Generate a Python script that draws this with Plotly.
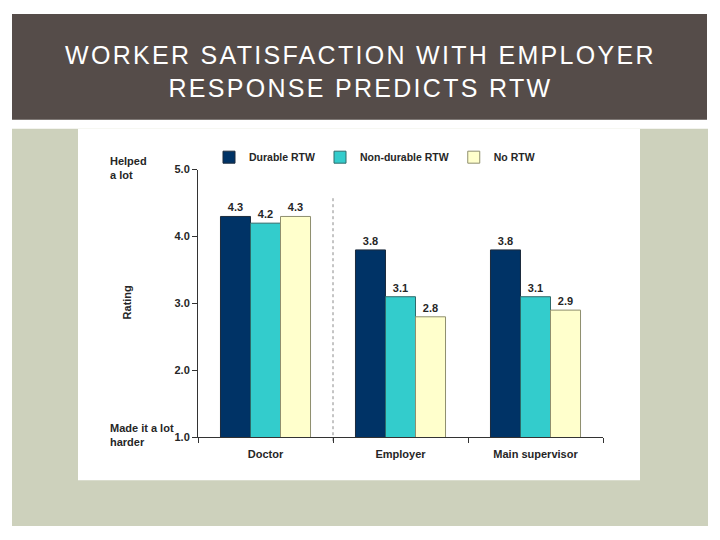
import plotly.graph_objects as go

categories = ["Doctor", "Employer", "Main supervisor"]
durable = [4.3, 3.8, 3.8]
non_durable = [4.2, 3.1, 3.1]
no_rtw = [4.3, 2.8, 2.9]
series_names = ["Durable RTW", "Non-durable RTW", "No RTW"]
y_ticks = [1.0, 2.0, 3.0, 4.0, 5.0]

# page body has an 8px margin; size the figure so that the page fits the 720x540 window
OFF = 8
W, H = 720 - 2 * OFF, 540 - 2 * OFF
# vertical calibration of the rendered page
VA, VB = 0.9786, 5.3
def px(x):
    return (x - OFF) / W
def py(y):
    v = 1 - ((y - VB) / VA - OFF) / H
    return min(max(v, 0.0), 1.0)

TXT = "#262626"
FONT = "Liberation Sans, Arial, sans-serif"

fig = go.Figure()
fills = ["#003366", "#33CCCC", "#FFFFCC"]
edges = ["#1c2b3d", "#2f6b6b", "#8f8f6e"]
for name, vals, fc, ec in zip(series_names, [durable, non_durable, no_rtw], fills, edges):
    fig.add_trace(go.Bar(
        x=categories, y=vals, name=name,
        marker=dict(color=fc, line=dict(color=ec, width=1)),
        texttemplate="%{y:.1f}", textposition="outside",
        textfont=dict(family=FONT, size=11, color=TXT, weight="bold"),
        cliponaxis=False,
    ))

shapes = [
    dict(type="rect", xref="paper", yref="paper", x0=px(12), x1=px(707), y0=py(119), y1=py(12),
         fillcolor="#554C49", line_width=0, layer="below"),
    dict(type="rect", xref="paper", yref="paper", x0=px(12), x1=px(708), y0=py(527), y1=py(128),
         fillcolor="#CDD1BC", line_width=0, layer="below"),
    dict(type="rect", xref="paper", yref="paper", x0=px(78), x1=px(640), y0=py(480), y1=py(128),
         fillcolor="#FFFFFF", line_width=0, layer="below"),
    dict(type="line", xref="x", yref="paper", x0=0.5, x1=0.5, y0=py(441), y1=py(195),
         line=dict(color="#8a8a8a", width=1, dash="dot"), layer="below"),
]

title_text = ('<span style="letter-spacing:2.3px">WORKER SATISFACTION WITH EMPLOYER</span><br>'
              '<span style="letter-spacing:2.3px">RESPONSE PREDICTS RTW</span>')

annotations = [
    dict(text=title_text, xref="paper", yref="paper",
         x=px(360), y=py(71), xanchor="center", yanchor="middle", showarrow=False,
         font=dict(family="Liberation Sans, Arial, sans-serif", size=25, color="white")),
    dict(text="Helped<br>a lot", xref="paper", yref="paper", x=px(108), y=py(152),
         xanchor="left", yanchor="top", showarrow=False, align="left",
         font=dict(family=FONT, size=11, color=TXT, weight="bold")),
    dict(text="Made it a lot<br>harder", xref="paper", yref="paper", x=px(108), y=py(420),
         xanchor="left", yanchor="top", showarrow=False, align="left",
         font=dict(family=FONT, size=11, color=TXT, weight="bold")),
    dict(text="Rating", xref="paper", yref="paper", x=px(127), y=py(302),
         xanchor="center", yanchor="middle", showarrow=False, textangle=-90,
         font=dict(family=FONT, size=11, color=TXT, weight="bold")),
]

fig.update_layout(
    width=W, height=H,
    margin=dict(l=0, r=0, t=0, b=0),
    paper_bgcolor="white", plot_bgcolor="rgba(0,0,0,0)",
    barmode="group", bargap=0.333, bargroupgap=0,
    shapes=shapes, annotations=annotations,
    showlegend=True,
    legend=dict(orientation="h", x=px(209), y=py(142), xanchor="left", yanchor="top",
                font=dict(family=FONT, size=10.5, color=TXT, weight="bold"),
                bgcolor="rgba(0,0,0,0)", itemwidth=30, tracegroupgap=0),
    xaxis=dict(domain=[px(198), px(603)], range=[-0.5, 2.5], showline=True, linecolor="#333333",
               linewidth=1, ticks="outside", tickson="boundaries", ticklen=5, tickcolor="#333333",
               showgrid=False, zeroline=False, ticklabelstandoff=7,
               tickfont=dict(family=FONT, size=11, color=TXT, weight="bold")),
    yaxis=dict(domain=[py(437), py(169)], range=[1, 5], tickvals=y_ticks,
               ticktext=[f"{v:.1f}" for v in y_ticks],
               showline=True, linecolor="#333333", linewidth=1, ticks="outside", ticklen=5,
               tickcolor="#333333", showgrid=False, zeroline=False,
               tickfont=dict(family=FONT, size=11, color=TXT, weight="bold")),
)

fig.write_html("out.html")
